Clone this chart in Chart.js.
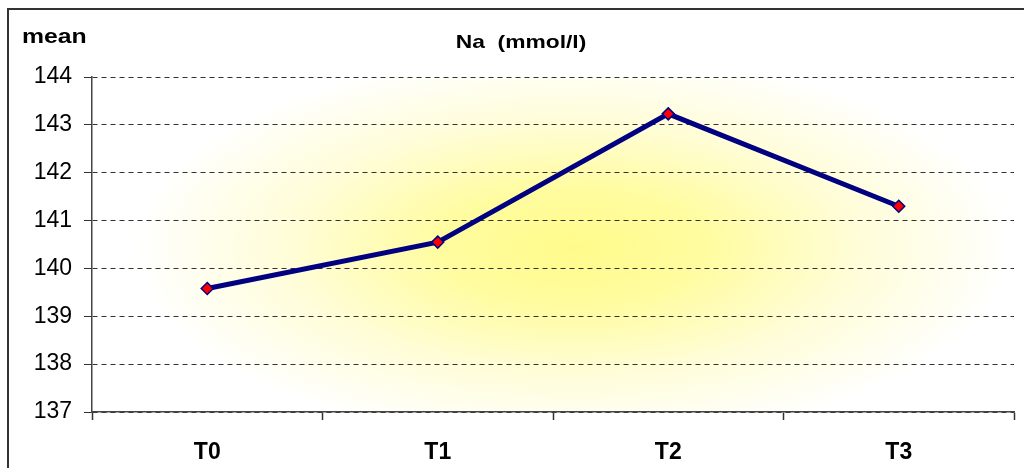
<!DOCTYPE html>
<html>
<head>
<meta charset="utf-8">
<script src="https://cdn.jsdelivr.net/npm/chart.js@4.4.1/dist/chart.umd.min.js"></script>
<style>
  html, body { margin: 0; padding: 0; background: #ffffff; overflow: hidden; }
  #wrap { width: 1024px; height: 468px; position: relative; overflow: hidden; }
  canvas { display: block; }
</style>
</head>
<body>
<div id="wrap"><canvas id="c" width="1024" height="468"></canvas></div>
<script>
// Sodium means per time point
const timePoints = ['T0', 'T1', 'T2', 'T3'];
const naMean = [139.58, 140.55, 143.23, 141.30];
const yTicks = [137, 138, 139, 140, 141, 142, 143, 144];
const chartTitle = 'Na  (mmol/l)';
const yAxisTitle = 'mean';

const FONT = '"Liberation Sans", Arial, sans-serif';

// draw a text line slightly widened horizontally
function wideText(ctx, text, x, y, font, sx, align) {
  ctx.save();
  ctx.font = font;
  ctx.textAlign = align;
  ctx.textBaseline = 'alphabetic';
  ctx.translate(x, y);
  ctx.scale(sx, 1);
  ctx.fillText(text, 0, 0);
  ctx.restore();
}

// Frame, soft yellow fill of the plot area and the two header texts
const decorPlugin = {
  id: 'decor',
  beforeDraw(chart) {
    const { ctx, chartArea: a } = chart;
    ctx.save();
    ctx.fillStyle = '#ffffff';
    ctx.fillRect(0, 0, chart.width, chart.height);
    // radial wash, stretched into an ellipse
    const cx = (a.left + a.right) / 2 + 20, cy = (a.top + a.bottom) / 2 + 3;
    const rx = 440, ry = 195;
    ctx.beginPath();
    ctx.rect(a.left, a.top, a.right - a.left, a.bottom - a.top);
    ctx.clip();
    ctx.translate(cx, cy);
    ctx.scale(1, ry / rx);
    const g = ctx.createRadialGradient(0, 0, 0, 0, 0, rx);
    g.addColorStop(0, '#FFFB8A');
    g.addColorStop(0.3, '#FFFCA0');
    g.addColorStop(0.65, '#FFFDD8');
    g.addColorStop(1, '#FFFFFF');
    ctx.fillStyle = g;
    ctx.fillRect(-rx * 3, -rx * 3, rx * 6, rx * 6);
    ctx.restore();
  },
  afterDraw(chart) {
    const { ctx } = chart;
    // outer frame: only its top and left sides fall inside the canvas
    ctx.save();
    ctx.strokeStyle = '#333333';
    ctx.lineWidth = 2;
    ctx.beginPath();
    ctx.moveTo(8, chart.height);
    ctx.lineTo(8, 9);
    ctx.lineTo(chart.width, 9);
    ctx.stroke();
    ctx.restore();
    ctx.fillStyle = '#000000';
    wideText(ctx, yAxisTitle, 22, 43, 'bold 21px ' + FONT, 1.18, 'left');
    wideText(ctx, chartTitle, 521, 48, 'bold 19px ' + FONT, 1.2, 'center');
  }
};

new Chart(document.getElementById('c'), {
  type: 'line',
  data: {
    labels: timePoints,
    datasets: [{
      data: naMean,
      borderColor: '#000080',
      borderWidth: 5,
      tension: 0,
      pointStyle: 'rectRot',
      pointRadius: 6,
      pointBackgroundColor: '#FF0000',
      pointBorderColor: '#000080',
      pointBorderWidth: 1.5,
      clip: false
    }]
  },
  options: {
    responsive: false,
    animation: false,
    events: [],
    layout: { padding: { left: 0, right: 10, top: 77, bottom: 0 } },
    plugins: { legend: { display: false }, title: { display: false }, tooltip: { enabled: false } },
    scales: {
      x: {
        type: 'category',
        offset: true,
        grid: {
          offset: true,
          drawOnChartArea: false,
          drawTicks: true,
          tickLength: 8,
          tickColor: '#333333',
          tickWidth: 1.5
        },
        border: { display: true, color: '#444444', width: 1.5 },
        ticks: {
          color: '#000000',
          font: { family: FONT, size: 23, weight: 'bold' },
          padding: 19,
          maxRotation: 0
        },
        afterFit(scale) { scale.height = 56; }
      },
      y: {
        min: 137,
        max: 144,
        afterBuildTicks(scale) { scale.ticks = yTicks.map(v => ({ value: v })); },
        grid: {
          color: '#333333',
          lineWidth: 1,
          drawTicks: true,
          tickLength: 8,
          tickColor: '#333333',
          tickBorderDash: [],
          tickWidth: 1
        },
        border: { display: true, color: '#444444', width: 1.5, dash: [5, 4] },
        ticks: {
          color: '#000000',
          font: { family: FONT, size: 23 },
          padding: 12
        },
        afterFit(scale) { scale.width = 92; }
      }
    }
  },
  plugins: [decorPlugin]
});
</script>
</body>
</html>
